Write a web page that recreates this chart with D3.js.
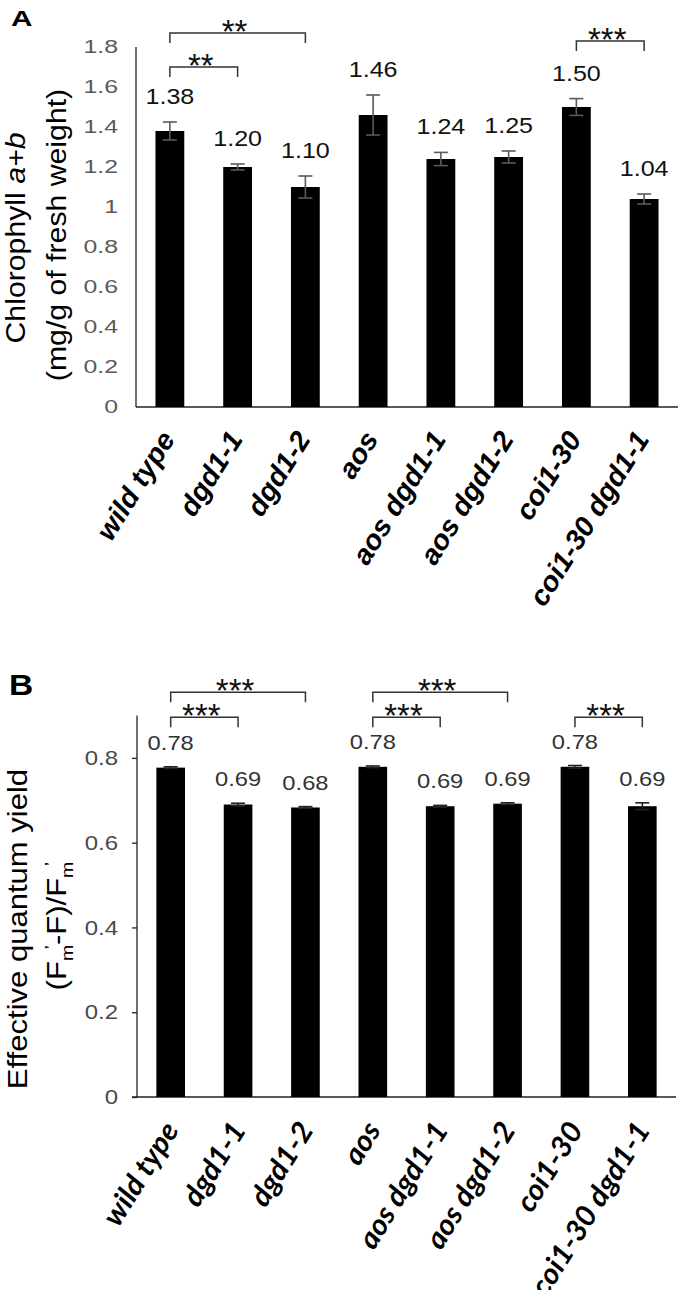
<!DOCTYPE html>
<html><head><meta charset="utf-8">
<script src="https://cdn.jsdelivr.net/npm/d3@7"></script>
<style>body{margin:0;background:#fff}svg{display:block}</style>
</head><body>
<svg id="chart" width="681" height="1290"></svg>
<script>
// ---------- data ----------
const categories = ["wild type","dgd1-1","dgd1-2","aos","aos dgd1-1","aos dgd1-2","coi1-30","coi1-30 dgd1-1"];

const chlValues = [1.38,1.20,1.10,1.46,1.24,1.25,1.50,1.04];
const chlErrors = [0.045,0.015,0.055,0.10,0.033,0.030,0.042,0.025];
const chlTicks = [0,0.2,0.4,0.6,0.8,1,1.2,1.4,1.6,1.8];
const chlTickLabels = ["0","0.2","0.4","0.6","0.8","1","1.2","1.4","1.6","1.8"];
const chlSigFrom = [0,0,6];
const chlSigTo = [1,2,7];
const chlSigLabel = ["**","**","***"];
const chlSigLevel = [1.70,1.87,1.83];

const yieldValues = [0.777,0.690,0.683,0.779,0.686,0.692,0.779,0.686];
const yieldErrors = [0.002,0.003,0.002,0.002,0.002,0.002,0.003,0.008];
const yieldTicks = [0,0.2,0.4,0.6,0.8];
const yieldTickLabels = ["0","0.2","0.4","0.6","0.8"];
const yieldSigFrom = [0,0,3,3,6];
const yieldSigTo = [1,2,4,5,7];
const yieldSigLabel = ["***","***","***","***","***"];
const yieldSigLevel = [0.896,0.955,0.896,0.955,0.896];

// ---------- drawing ----------
const svg = d3.select("#chart");
const SANS = "'Liberation Sans', Arial, Helvetica, sans-serif";

function drawPanel(o) {
  const g = svg.append("g");
  const x = d3.scaleBand().domain(categories).range([o.x0, o.x1])
    .paddingInner(o.pad).paddingOuter(o.pad / 2);
  const y = d3.scaleLinear().domain([0, o.ymax]).range([o.yBottom, o.yTop]);

  // axes
  const yAxis = d3.axisLeft(y).tickValues(o.ticks).tickSize(o.tickSize).tickFormat("");
  const ya = g.append("g").attr("transform", `translate(${o.x0},0)`).call(yAxis);
  ya.select(".domain").attr("d", `M0,${y(o.ymax)}V${y(0)}`).attr("stroke", "#222").attr("stroke-width", 1.3);
  ya.selectAll(".tick line").attr("stroke", "#222").attr("stroke-width", 1.3);

  const xAxis = d3.axisBottom(x).tickSize(0).tickFormat("");
  const xa = g.append("g").attr("transform", `translate(0,${y(0)})`).call(xAxis);
  xa.select(".domain").attr("d", `M${o.x0 - o.tickSize},0H${o.x1}`).attr("stroke", "#222").attr("stroke-width", 1.3);

  // tick labels
  g.selectAll(".tl").data(o.ticks).join("text")
    .attr("transform", (d) => `translate(${o.tickLabelX},${y(d)}) scale(${o.tickScale},1)`)
    .attr("dy", "0.36em")
    .attr("text-anchor", "end")
    .attr("font-family", SANS).attr("font-size", o.tickFont)
    .attr("fill", o.tickColor)
    .text((d, i) => o.tickLabels[i]);

  // bars
  g.selectAll(".bar").data(o.values).join("rect")
    .attr("x", (d, i) => x(categories[i]))
    .attr("width", x.bandwidth())
    .attr("y", (d) => y(d))
    .attr("height", (d) => y(0) - y(d))
    .attr("fill", "#000");

  // error bars
  const eb = g.selectAll(".eb").data(o.values).join("g").attr("stroke", o.errColor).attr("stroke-width", 1.6);
  eb.append("line")
    .attr("x1", (d, i) => x(categories[i]) + x.bandwidth() / 2)
    .attr("x2", (d, i) => x(categories[i]) + x.bandwidth() / 2)
    .attr("y1", (d, i) => y(d - o.errors[i]))
    .attr("y2", (d, i) => y(d + o.errors[i]));
  [1, -1].forEach((s) => {
    eb.append("line")
      .attr("x1", (d, i) => x(categories[i]) + x.bandwidth() / 2 - 7)
      .attr("x2", (d, i) => x(categories[i]) + x.bandwidth() / 2 + 7)
      .attr("y1", (d, i) => y(d + s * o.errors[i]))
      .attr("y2", (d, i) => y(d + s * o.errors[i]));
  });

  // value labels
  g.selectAll(".vl").data(o.values).join("text")
    .attr("transform", (d, i) => `translate(${x(categories[i]) + x.bandwidth() / 2},${y(d + o.errors[i]) - o.labelGap}) scale(${o.valScale},1)`)
    .attr("text-anchor", "middle")
    .attr("font-family", SANS).attr("font-size", o.valFont)
    .attr("fill", o.valColor)
    .text((d) => d3.format(".2f")(d));

  // significance brackets
  o.sigFrom.forEach((f, k) => {
    const xa1 = x(categories[f]) + x.bandwidth() / 2;
    const xa2 = x(categories[o.sigTo[k]]) + x.bandwidth() / 2;
    const yy = y(o.sigLevel[k]);
    g.append("path")
      .attr("d", `M${xa1},${yy + 10}V${yy}H${xa2}V${yy + 10}`)
      .attr("fill", "none").attr("stroke", "#333").attr("stroke-width", 1.5);
    g.append("text")
      .attr("x", (xa1 + xa2) / 2 - 3).attr("y", yy + 10)
      .attr("text-anchor", "middle")
      .attr("font-family", SANS).attr("font-size", 33)
      .attr("fill", "#111")
      .text(o.sigLabel[k]);
  });

  // category labels (stretched so that "wild type" reaches the reference length)
  const cl = g.selectAll(".cl").data(categories).join("text")
    .attr("text-anchor", "end")
    .attr("font-family", o.catFamily).attr("font-size", o.catFont)
    .attr("font-weight", "bold").attr("font-style", "italic")
    .attr("fill", "#000")
    .text((d) => d);
  const len0 = cl.node().getComputedTextLength() || o.catTarget;
  const sx = o.catTarget / len0;
  cl.attr("transform", (d) => `translate(${x(d) + x.bandwidth() / 2 + o.catDx},${y(0) + o.catDy}) rotate(${o.catAngle}) scale(${sx},1)`);

  // panel letter
  g.append("text")
    .attr("transform", `translate(${o.letterX},${o.letterY}) scale(${o.letterScale},1)`)
    .attr("font-family", SANS).attr("font-weight", "bold").attr("font-size", o.letterFont)
    .attr("fill", "#000").text(o.letter);

  return {g, x, y};
}

// Panel A
drawPanel({
  x0: 136, x1: 678, pad: 0.575, ymax: 1.8, yBottom: 407, yTop: 47,
  ticks: chlTicks, tickLabels: chlTickLabels, tickSize: 0,
  tickLabelX: 118, tickScale: 1.38, tickFont: 18, tickColor: "#5a5a5a",
  values: chlValues, errors: chlErrors, errColor: "#5a5a5a",
  labelGap: 18, valScale: 1.14, valFont: 22, valColor: "#111",
  sigFrom: chlSigFrom, sigTo: chlSigTo, sigLabel: chlSigLabel, sigLevel: chlSigLevel,
  catDx: 6, catDy: 32, catAngle: -58, catTarget: 122, catFont: 28, catFamily: SANS,
  letter: "A", letterX: 11, letterY: 26, letterScale: 1.35, letterFont: 22
});

// y title A
const tA = svg.append("text")
  .attr("transform", "translate(25,238) rotate(-90) scale(1.12,1)")
  .attr("text-anchor", "middle").attr("font-family", SANS).attr("font-size", 27).attr("fill", "#000");
tA.append("tspan").text("Chlorophyll ");
tA.append("tspan").attr("font-style", "italic").text("a+b");
svg.append("text")
  .attr("transform", "translate(66,235) rotate(-90) scale(1.12,1)")
  .attr("text-anchor", "middle").attr("font-family", SANS).attr("font-size", 27).attr("fill", "#000")
  .text("(mg/g of fresh weight)");

// Panel B
drawPanel({
  x0: 137, x1: 676, pad: 0.575, ymax: 0.9, yBottom: 1097, yTop: 715.5,
  ticks: yieldTicks, tickLabels: yieldTickLabels, tickSize: 5,
  tickLabelX: 118, tickScale: 1.2, tickFont: 20, tickColor: "#4a4a4a",
  values: yieldValues, errors: yieldErrors, errColor: "#222",
  labelGap: 17, valScale: 1.13, valFont: 21, valColor: "#333",
  sigFrom: yieldSigFrom, sigTo: yieldSigTo, sigLabel: yieldSigLabel, sigLevel: yieldSigLevel,
  catDx: 9, catDy: 33, catAngle: -58, catTarget: 116, catFont: 29, catFamily: "Lato, 'Open Sans', sans-serif",
  letter: "B", letterX: 9, letterY: 695, letterScale: 1.12, letterFont: 30
});

// y title B
svg.append("text")
  .attr("transform", "translate(27,929) rotate(-90) scale(1.15,1)")
  .attr("text-anchor", "middle").attr("font-family", SANS).attr("font-size", 27).attr("fill", "#000")
  .text("Effective quantum yield");
const tB = svg.append("text")
  .attr("transform", "translate(66,926) rotate(-90) scale(1.15,1)")
  .attr("text-anchor", "middle").attr("font-family", SANS).attr("font-size", 27).attr("fill", "#000");
const parts = [["(F", 0], ["m", 1], ["’", 2], ["-F)/F", 0], ["m", 1], ["’", 2]];
let cur = 0;
parts.forEach(([t, kind]) => {
  const target = kind === 1 ? 7 : kind === 2 ? -9 : 0;
  const ts = tB.append("tspan").attr("dy", target - cur)
    .attr("font-size", kind === 0 ? 27 : 17).text(t);
  if (kind === 2) ts.attr("dx", -4);
  cur = target;
});
</script>
</body></html>
